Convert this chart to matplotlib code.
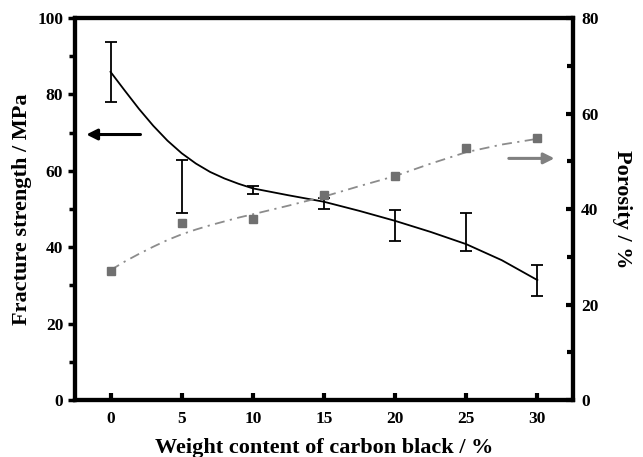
import numpy as np
import matplotlib
matplotlib.use('Agg')
import matplotlib.pyplot as plt
from matplotlib.ticker import MultipleLocator

plt.rcParams['font.family'] = ['Liberation Serif', 'DejaVu Serif']
plt.rcParams['font.weight'] = 'bold'

# carbon black content (%)
cb = [0, 5, 10, 15, 20, 25, 30]
# fracture strength error bars (centre and half width, MPa)
strength_mid = [85.8, 55.9, 54.9, 51.4, 45.7, 44.0, 31.3]
strength_err = [7.9, 7.0, 1.0, 1.4, 4.0, 4.9, 4.0]
# porosity points (%)
porosity = [27.1, 37.0, 38.0, 42.9, 46.9, 52.8, 54.8]

# fitted curves
fit_x = [0, 1, 2, 3, 4, 5, 6, 7, 8, 9, 10, 12.5, 15, 17.5, 20, 22.5, 25, 27.5, 30]
strength_fit = [85.9, 81.0, 76.2, 71.8, 67.9, 64.6, 61.9, 59.7, 58.0, 56.6, 55.4,
                53.6, 51.9, 49.5, 46.9, 44.0, 40.8, 36.6, 31.4]
porosity_fit = [27.2, 29.0, 30.6, 32.1, 33.5, 34.7, 35.7, 36.6, 37.4, 38.2, 38.9,
                40.7, 42.6, 44.8, 46.9, 49.5, 51.9, 53.5, 54.7]

fig = plt.figure(figsize=(6.43, 4.57), dpi=100)
ax = fig.add_axes([0.1166, 0.1247, 0.7744, 0.8359])
ax2 = ax.twinx()

# fracture strength
ax.plot(fit_x, strength_fit, color='black', lw=1.3)
ax.errorbar(cb, strength_mid, yerr=strength_err, fmt='none', ecolor='black',
            elinewidth=1.3, capsize=4, capthick=1.3)

# porosity
ax2.plot(fit_x, porosity_fit, color='#8c8c8c', lw=1.3, linestyle=(0, (5.5, 3, 1.2, 3)))
ax2.plot(cb, porosity, linestyle='none', marker='s', markersize=5.5,
         color='#707070')

# arrows
ax.annotate('', xy=(-1.9, 69.5), xytext=(2.3, 69.5),
            arrowprops=dict(arrowstyle='-|>', lw=2.2, color='black', mutation_scale=16))
ax2.annotate('', xy=(31.4, 50.6), xytext=(27.8, 50.6),
             arrowprops=dict(arrowstyle='-|>', lw=2.2, color='#808080', mutation_scale=16))

ax.set_xlim(-2.5, 32.5)
ax.set_ylim(0, 100)
ax2.set_ylim(0, 80)

ax.set_xticks(cb)
ax.yaxis.set_major_locator(MultipleLocator(20))
ax.yaxis.set_minor_locator(MultipleLocator(10))
ax2.yaxis.set_major_locator(MultipleLocator(20))
ax2.yaxis.set_minor_locator(MultipleLocator(10))

for a in (ax, ax2):
    for s in a.spines.values():
        s.set_linewidth(3)

ax.tick_params(axis='x', direction='in', length=5, width=3, labelsize=12.5, pad=8)
ax.tick_params(axis='y', which='major', direction='out', length=5, width=2.5, labelsize=12.5)
ax.tick_params(axis='y', which='minor', direction='out', length=4, width=2.5)
ax2.tick_params(axis='y', which='major', direction='in', length=5, width=3, labelsize=12.5, pad=6)
ax2.tick_params(axis='y', which='minor', direction='in', length=4, width=3)

ax.set_xlabel('Weight content of carbon black / %', fontsize=16, fontweight='bold', labelpad=8)
ax.set_ylabel('Fracture strength / MPa', fontsize=16, fontweight='bold', labelpad=4)
ax2.set_ylabel('Porosity / %', fontsize=16, fontweight='bold', rotation=-90, labelpad=24)

fig.savefig('out.png', dpi=100)
